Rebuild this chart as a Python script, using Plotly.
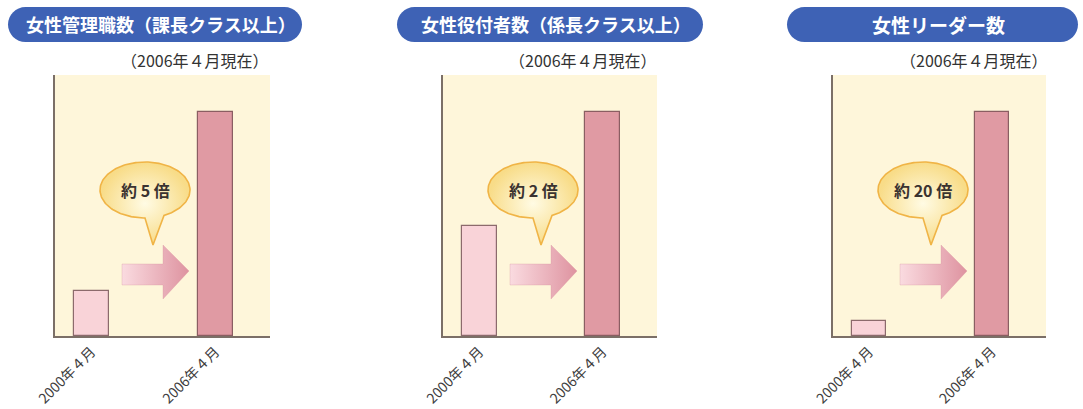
import numpy as np
import plotly.graph_objects as go

W, H = 1083, 409

# ---- data -------------------------------------------------------------
periods = ["2000年４月", "2006年４月"]
titles = ["女性管理職数（課長クラス以上）", "女性役付者数（係長クラス以上）", "女性リーダー数"]
subtitle = "（2006年４月現在）"
# index values, 2006年4月 = 100
values_2000 = [20, 49, 6.5]
values_2006 = [100, 100, 100]
ratio_labels = ["約 5 倍", "約 2 倍", "約 20 倍"]

# ---- layout constants (pixels) -----------------------------------------
plot_left = [55, 443, 833]
plot_right = [270, 657, 1046]
plot_top, plot_bottom = 75, 336
pill_left = [8, 397, 787]
pill_right = [302, 703, 1078]
pill_top, pill_bottom = 7, 42
title_size = [18, 18, 19]
subtitle_cx = [195, 583, 974]
subtitle_cy = 60
X_RANGE = [-0.295, 1.441]
Y_MAX = 116.5
BAR_WIDTH = 0.28

FONT = "Noto Sans CJK JP"
CREAM = "#fef6da"
AXIS = "#7b6f67"
BAR_FILL = ["#f9d3d8", "#e09aa3"]
BAR_EDGE = ["#8c6a6c", "#8a5e62"]
PILL = "#3e62b5"


def px_x(i, px):
    """pixel x offset from the plot's left edge -> data x of panel i"""
    w = plot_right[i] - plot_left[i]
    return X_RANGE[0] + px / w * (X_RANGE[1] - X_RANGE[0])


def px_y(py):
    """pixel height above the baseline -> data y"""
    return py / (plot_bottom - plot_top) * Y_MAX


def paper(px, py):
    return px / W, 1 - py / H


def pill_path(x0, x1, y0, y1):
    r = (y1 - y0) / 2
    k = 0.5523 * r

    def P(x, y):
        a, b = paper(x, y)
        return f"{a:.5f},{b:.5f}"
    d = f"M{P(x0 + r, y0)} L{P(x1 - r, y0)} "
    d += f"C{P(x1 - r + k, y0)} {P(x1, y0 + r - k)} {P(x1, y0 + r)} "
    d += f"C{P(x1, y0 + r + k)} {P(x1 - r + k, y1)} {P(x1 - r, y1)} "
    d += f"L{P(x0 + r, y1)} "
    d += f"C{P(x0 + r - k, y1)} {P(x0, y0 + r + k)} {P(x0, y0 + r)} "
    d += f"C{P(x0, y0 + r - k)} {P(x0 + r - k, y0)} {P(x0 + r, y0)} Z"
    return d


fig = go.Figure()
shapes, annotations = [], []

for i in range(3):
    xa = "x" if i == 0 else f"x{i + 1}"
    ya = "y" if i == 0 else f"y{i + 1}"
    xs = list(range(len(periods)))
    vals = [values_2000[i], values_2006[i]]

    # bars
    fig.add_trace(go.Bar(
        x=xs, y=vals, width=BAR_WIDTH,
        marker=dict(color=BAR_FILL, line=dict(color=BAR_EDGE, width=1.2)),
        xaxis=xa, yaxis=ya, hoverinfo="skip",
    ))

    # arrow between the two bars (pixel offsets from plot origin)
    ax = [67, 108, 108, 134, 108, 108, 67, 67]
    ay = [72, 72, 91, 65, 37, 51, 51, 72]
    fig.add_trace(go.Scatter(
        x=[px_x(i, v) for v in ax], y=[px_y(v) for v in ay],
        mode="lines", fill="toself",
        fillgradient=dict(type="horizontal",
                          colorscale=[[0, "#fadbe0"], [1, "#de93a0"]]),
        line=dict(color="rgba(214,140,152,0.35)", width=0.8),
        xaxis=xa, yaxis=ya, hoverinfo="skip",
    ))

    # speech bubble (ellipse with a tail)
    cx, cy, rx, ry = 90, 146, 45, 28
    t_a, t_b = np.radians(-65), np.radians(-90)
    tt = np.linspace(0, -2 * np.pi, 181)
    bx, by = [], []
    tail_done = False
    for t in tt:
        if t_b < t < t_a:
            if not tail_done:
                bx.append(cx + rx * np.cos(t_a)); by.append(cy + ry * np.sin(t_a))
                bx.append(cx + 8); by.append(cy - 55)
                bx.append(cx + rx * np.cos(t_b)); by.append(cy + ry * np.sin(t_b))
                tail_done = True
            continue
        bx.append(cx + rx * np.cos(t)); by.append(cy + ry * np.sin(t))
    fig.add_trace(go.Scatter(
        x=[px_x(i, v) for v in bx], y=[px_y(v) for v in by],
        mode="lines", fill="toself",
        fillgradient=dict(type="radial",
                          colorscale=[[0, "#fffbe4"], [1, "#f8dc88"]]),
        line=dict(color="#f0b446", width=1.6),
        xaxis=xa, yaxis=ya, hoverinfo="skip",
    ))
    annotations.append(dict(
        x=px_x(i, cx), y=px_y(cy), xref=xa, yref=ya, text=f"<b>{ratio_labels[i]}</b>",
        xanchor="center", yanchor="middle",
        showarrow=False, font=dict(family=FONT, size=16, color="#3a3330"),
    ))

    # title pill
    shapes.append(dict(type="path", xref="paper", yref="paper",
                       path=pill_path(pill_left[i], pill_right[i], pill_top, pill_bottom),
                       fillcolor=PILL, line=dict(width=0), layer="above"))
    tx, ty = paper((pill_left[i] + pill_right[i]) / 2 + 6, (pill_top + pill_bottom) / 2)
    annotations.append(dict(
        x=tx, y=ty, xref="paper", yref="paper", text=f"<b>{titles[i]}</b>",
        xanchor="center", yanchor="middle",
        showarrow=False, font=dict(family=FONT, size=title_size[i], color="white"),
    ))
    sx, sy = paper(subtitle_cx[i], subtitle_cy)
    annotations.append(dict(
        x=sx, y=sy, xref="paper", yref="paper", text=subtitle,
        xanchor="center", yanchor="middle",
        showarrow=False, font=dict(family=FONT, size=16, color="#333333"),
    ))

layout = dict(
    width=W, height=H,
    margin=dict(l=0, r=0, t=0, b=0, pad=0, autoexpand=False),
    paper_bgcolor="white", plot_bgcolor=CREAM, showlegend=False,
    shapes=shapes, annotations=annotations, bargap=0,
)
for i in range(3):
    kx = "xaxis" if i == 0 else f"xaxis{i + 1}"
    ky = "yaxis" if i == 0 else f"yaxis{i + 1}"
    ya = "y" if i == 0 else f"y{i + 1}"
    xa = "x" if i == 0 else f"x{i + 1}"
    layout[kx] = dict(
        domain=[plot_left[i] / W, plot_right[i] / W], anchor=ya,
        range=X_RANGE, tickvals=list(range(len(periods))), ticktext=periods,
        tickangle=-45, ticks="", showgrid=False, zeroline=False, automargin=False,
        showline=True, linecolor=AXIS, linewidth=2,
        tickfont=dict(family=FONT, size=14, color="#3d3d3d"), fixedrange=True,
    )
    layout[ky] = dict(
        domain=[1 - plot_bottom / H, 1 - plot_top / H], anchor=xa,
        range=[0, Y_MAX], showticklabels=False, ticks="", showgrid=False,
        zeroline=False, showline=True, linecolor=AXIS, linewidth=2,
        automargin=False, fixedrange=True,
    )

fig.update_layout(**layout)
fig.write_html("out.html")
